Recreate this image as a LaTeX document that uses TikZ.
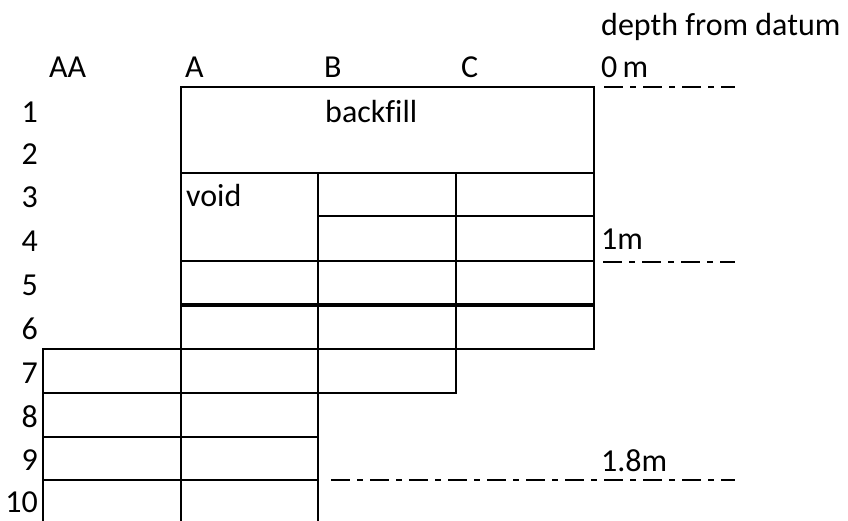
\documentclass[tikz,border=0pt]{standalone}
\usepackage{fontspec}
\setmainfont{Carlito}[Ligatures=CommonOff]
\begin{document}
\begin{tikzpicture}[x=1pt,y=-1pt,
  gridline/.style={line width=2pt, line cap=rect},
  thickline/.style={line width=3.6pt},
  datum/.style={line width=2pt, dash pattern=on 19pt off 7pt on 6pt off 7pt},
  lbl/.style={inner sep=0pt, anchor=base west, font=\fontsize{32}{38}\selectfont},
  rowlbl/.style={inner sep=0pt, anchor=base east, font=\fontsize{32}{38}\selectfont}]
\useasboundingbox (0,0) rectangle (848,520);
% column x: AA 43, A 181, B 318, C 456, R 594
% grid
\draw[gridline] (181,87) -- (594,87);
\draw[gridline] (181,87) -- (181,520);
\draw[gridline] (594,87) -- (594,349);
\draw[gridline] (318,173) -- (318,520);
\draw[gridline] (456,173) -- (456,393);
\draw[gridline] (43,349) -- (43,520);
\draw[gridline] (181,173) -- (594,173);
\draw[gridline] (318,216) -- (594,216);
\draw[gridline] (181,261) -- (594,261);
\draw[thickline] (181,305) -- (594,305);
\draw[gridline] (43,349) -- (594,349);
\draw[gridline] (43,393) -- (456,393);
\draw[gridline] (43,436.5) -- (318,436.5);
\draw[gridline] (43,479.5) -- (318,479.5);
% datum lines
\coordinate (d0a) at (604,87);  \coordinate (d0b) at (735,87);
\coordinate (d1a) at (603,262); \coordinate (d1b) at (735,262);
\coordinate (d2a) at (331,479.5); \coordinate (d2b) at (735,479.5);
\draw[datum] (d0a) -- (d0b);
\draw[datum] (d1a) -- (d1b);
\draw[datum] (d2a) -- (d2b);
% labels
\node[lbl] (title) at (601,35) {depth from datum};
\node[lbl] (h0) at (601,77) {0\,m};
\node[lbl] (hAA) at (49,77) {AA};
\node[lbl] (hA) at (185,77) {A};
\node[lbl] (hB) at (324,77) {B};
\node[lbl] (hC) at (461,77) {C};
\node[lbl] (backfill) at (325,122) {backfill};
\node[lbl] (void) at (186,206) {void};
\node[lbl] (h1) at (601,249) {1m};
\node[lbl] (h18) at (601,471) {1.8m};
\node[rowlbl] (r1) at (38,122) {1};
\node[rowlbl] (r2) at (38,164) {2};
\node[rowlbl] (r3) at (38,207) {3};
\node[rowlbl] (r4) at (38,251) {4};
\node[rowlbl] (r5) at (38,295) {5};
\node[rowlbl] (r6) at (38,339) {6};
\node[rowlbl] (r7) at (38,383) {7};
\node[rowlbl] (r8) at (38,427) {8};
\node[rowlbl] (r9) at (38,470) {9};
\node[rowlbl] (r10) at (38,512) {10};
\end{tikzpicture}
\end{document}
